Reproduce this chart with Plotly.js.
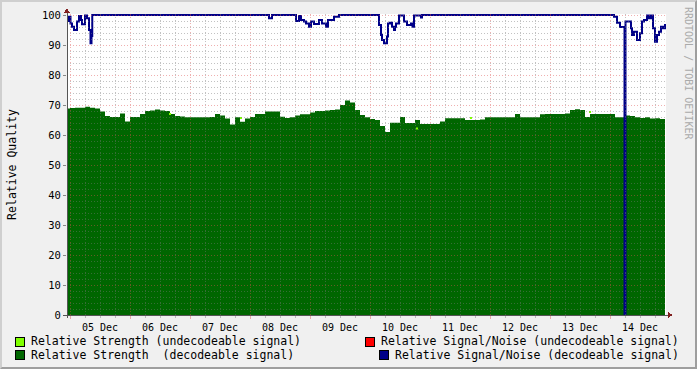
<!DOCTYPE html>
<html><head><meta charset="utf-8">
<script src="https://cdn.plot.ly/plotly-3.0.1.min.js"></script>
<style>
html,body{margin:0;padding:0;background:#f0f0f0;}
#wrap{width:697px;height:369px;box-sizing:border-box;border-style:solid;border-width:2px;border-color:#cfcfcf #9e9e9e #9e9e9e #cfcfcf;background:#f0f0f0;overflow:hidden;}
#chart{width:693px;height:365px;}
.shapelayer path{shape-rendering:crispEdges;}
</style></head><body><div id="wrap"><div id="chart"></div></div>
<script>
// ---- data (hours counted from 05 Dec 00:00) ----
var strengthStartHour = -2, strengthStepHours = 2;
var strengthDecodeable = [
 68.8,69.0,69.1,69.1,69.4,69.1,68.8,67.8,66.3,66.0,66.0,67.2,64.5,66.0,66.0,67.0,68.0,68.2,68.5,68.2,
 68.0,67.0,66.3,66.2,65.9,65.9,65.9,65.9,65.9,66.0,67.0,66.5,65.5,63.5,65.9,64.4,65.5,66.0,67.0,67.0,
 67.8,67.8,67.8,66.1,65.7,65.9,66.5,66.9,66.9,67.5,68.0,68.0,68.2,68.3,68.5,70.0,71.5,70.8,68.3,66.7,
 65.9,65.3,65.0,63.0,61.0,64.1,64.1,66.0,64.0,64.0,65.0,63.7,63.7,63.7,63.7,64.5,65.6,65.6,65.6,65.6,
 65.0,65.0,65.0,65.2,65.9,65.9,65.9,65.9,65.9,65.9,67.0,65.9,65.9,65.9,65.9,66.9,67.0,67.0,67.0,67.0,
 67.2,68.3,68.6,68.3,66.0,67.0,67.0,67.0,67.0,67.0,65.9,65.9,66.5,66.3,65.9,65.7,65.9,65.5,65.6,65.3,
 64.5
];
var strengthUndecodeableHours = [40, 68.4, 138.8, 160.4, 208];
var strengthUndecodeable      = [67, 65.7, 62.2, 65.7, 67.7];

var snDecodeableHours = [
 -2,-0.4,0.2,0.8,1.6,2.8,3.6,4.4,4.8,6,6.8,7.6,8.2,8.6,8.9,
 79.6,80.8,90.4,91.6,92.4,93.6,94.4,95.6,96.4,97.6,99.6,100.8,102.4,103.2,105.6,107.6,
 123.6,124.4,124.8,125.6,126.8,127.2,128,128.8,129.6,130,130.4,131.6,133.6,134.8,136.4,137,137.6,140.4,140.8,
 217.6,218.8,220,221.8,222.2,224.4,224.8,225.6,226.8,228,228.8,229.6,230.8,231.6,232.4,233.2,234,234.8,235.6,236.4,237.2,238,239
];
var snDecodeable = [
 98,99.4,97.2,96.1,95,97.8,99.7,98.3,96.9,99.8,98.9,95,90.6,93,100,
 98.9,100,98,99.7,98.3,97.8,97.2,96.1,97.8,97,98.3,97.2,96.1,98.3,99.4,100,
 96.7,93.3,91.7,90.6,92.8,97.2,97.4,96.1,95,96.1,97.2,99.8,97.8,96.7,97.2,96.1,99.8,99.2,100,
 99.4,97.4,96,0,97.8,95.6,93.3,94.4,91.7,93.9,97.8,98.3,99.8,98.9,99.8,95.6,91.1,93.3,94.4,96.1,95.6,96.7,96.7
];
var snUndecodeableHours = [];
var snUndecodeable = [];

var legendLabels = [
 'Relative Strength (undecodeable signal)',
 'Relative Signal/Noise (undecodeable signal)',
 'Relative Strength \u00a0(decodeable signal)',
 'Relative Signal/Noise (decodeable signal)'
];
var yTitle = 'Relative Quality';
var watermark = 'RRDTOOL / TOBI OETIKER';

// ---- helpers ----
var base = Date.UTC(2023, 11, 5);
function toMs(h){ return base + h * 3600000; }
var strengthHours = strengthDecodeable.map(function(_, i){ return strengthStartHour + i * strengthStepHours; });

var FONT = 'DejaVu Sans Mono';
var L = 67, R = 666, T = 14, B = 315; // plot area in page pixels
function px(x){ return (x - L) / (R - L); }
function py(y){ return (B - y) / (B - T); }

var xStart = -1.2, xEnd = 238.4;

var traces = [
 {type:'scatter', mode:'lines', x: strengthHours.map(toMs), y: strengthDecodeable,
  line:{shape:'hv', width:0, color:'#006600'}, fill:'tozeroy', fillcolor:'#006600',
  name: legendLabels[2], showlegend:false, hoverinfo:'skip'},
 {type:'scatter', mode:'markers', x: strengthUndecodeableHours.map(toMs), y: strengthUndecodeable,
  marker:{symbol:'square', size:2, color:'#80ff00'}, name: legendLabels[0], showlegend:false},
 {type:'scatter', mode:'markers', x: snUndecodeableHours.map(toMs), y: snUndecodeable,
  marker:{symbol:'square', size:2, color:'#ff0000'}, name: legendLabels[1], showlegend:false},
 {type:'scatter', mode:'lines', x: snDecodeableHours.map(toMs), y: snDecodeable,
  line:{shape:'hv', width:2, color:'#000088'}, name: legendLabels[3], showlegend:false}
];

// grid above data (rrdtool style)
var shapes = [];
var MINOR = 'rgba(120,120,120,0.45)', MAJOR = 'rgba(222,79,79,0.45)', DASH = '1px,2px';
for (var h = Math.ceil(xStart/6)*6; h <= xEnd; h += 6) {
  shapes.push({type:'line', xref:'x', yref:'paper', x0:toMs(h), x1:toMs(h), y0:0, y1:1, layer:'above',
    line:{color: (h % 24 === 0) ? MAJOR : MINOR, width:1, dash:DASH}});
}
for (var v = 2; v <= 100; v += 2) {
  shapes.push({type:'line', xref:'paper', yref:'y', x0:0, x1:1, y0:v, y1:v, layer:'above',
    line:{color: (v % 10 === 0) ? MAJOR : MINOR, width:1, dash:DASH}});
}
// axes lines with arrows
shapes.push({type:'line', xref:'paper', yref:'paper', x0:px(67), x1:px(67), y0:py(318), y1:py(13), layer:'above', line:{color:'#555', width:1}});
shapes.push({type:'line', xref:'paper', yref:'paper', x0:px(63), x1:px(668), y0:py(315), y1:py(315), layer:'above', line:{color:'#555', width:1}});
shapes.push({type:'path', xref:'paper', yref:'paper', layer:'above',
  path:'M'+px(67)+','+py(8)+' L'+px(64)+','+py(13)+' L'+px(70)+','+py(13)+' Z', fillcolor:'#801f1f', line:{width:0}});
shapes.push({type:'path', xref:'paper', yref:'paper', layer:'above',
  path:'M'+px(673)+','+py(315)+' L'+px(668)+','+py(312)+' L'+px(668)+','+py(318)+' Z', fillcolor:'#801f1f', line:{width:0}});

// legend boxes
var legendBoxes = [
 {x:15, y:337, c:'#80ff00'}, {x:365, y:337, c:'#ff0000'},
 {x:15, y:350, c:'#006600'}, {x:379, y:350, c:'#000088'}
];
legendBoxes.forEach(function(b){
  shapes.push({type:'rect', xref:'paper', yref:'paper', x0:px(b.x), x1:px(b.x+9), y0:py(b.y), y1:py(b.y+9),
    fillcolor:b.c, line:{color:'#000', width:1}, layer:'above'});
});

var annotations = [
 {xref:'paper', yref:'paper', x:px(29), y:py(341), xanchor:'left', yanchor:'middle', text:legendLabels[0], showarrow:false, font:{family:FONT, size:11.5, color:'#000'}},
 {xref:'paper', yref:'paper', x:px(681), y:py(341), xanchor:'right', yanchor:'middle', text:legendLabels[1], showarrow:false, font:{family:FONT, size:11.5, color:'#000'}},
 {xref:'paper', yref:'paper', x:px(29), y:py(355), xanchor:'left', yanchor:'middle', text:legendLabels[2], showarrow:false, font:{family:FONT, size:11.5, color:'#000'}},
 {xref:'paper', yref:'paper', x:px(681), y:py(355), xanchor:'right', yanchor:'middle', text:legendLabels[3], showarrow:false, font:{family:FONT, size:11.5, color:'#000'}},
 {xref:'paper', yref:'paper', x:px(688), y:py(73), xanchor:'center', yanchor:'middle', textangle:90, text:watermark, showarrow:false, font:{family:FONT, size:10, color:'#aaaaaa'}}
];

var layout = {
  width:693, height:365,
  margin:{l:65, r:29, t:12, b:52, pad:0},
  paper_bgcolor:'#f0f0f0', plot_bgcolor:'#ffffff',
  showlegend:false,
  font:{family:FONT, size:10, color:'#000'},
  xaxis:{type:'date', range:[toMs(xStart), toMs(xEnd)], tick0:toMs(0), dtick:86400000,
    ticklabelmode:'period', tickformat:'%d %b', ticks:'outside', ticklen:3, tickcolor:MAJOR,
    showgrid:false, zeroline:false, showline:false, fixedrange:true,
    tickfont:{family:FONT, size:10, color:'#000'},
    minor:{tick0:toMs(0), dtick:6*3600000, ticks:'outside', ticklen:2, tickcolor:MINOR, showgrid:false}},
  yaxis:{range:[0, 100.333], tick0:0, dtick:10, ticks:'outside', ticklen:3, tickcolor:'#888',
    showgrid:false, zeroline:false, showline:false, fixedrange:true,
    tickfont:{family:FONT, size:10.5, color:'#000'},
    title:{text:yTitle, font:{family:FONT, size:11.5, color:'#000'}, standoff:22}},
  shapes:shapes,
  annotations:annotations
};

Plotly.newPlot('chart', traces, layout, {staticPlot:true, displayModeBar:false});
</script></body></html>
